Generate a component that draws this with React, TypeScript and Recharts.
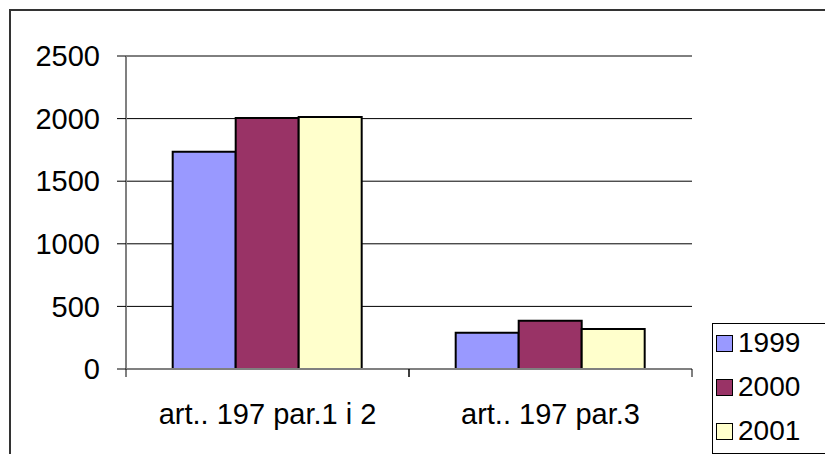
import { BarChart, Bar, XAxis, YAxis, CartesianGrid, Legend } from "recharts";

const categories = ["art.. 197 par.1 i 2", "art.. 197 par.3"];
const years = ["1999", "2000", "2001"];
const values1999 = [1735, 290];
const values2000 = [2005, 386];
const values2001 = [2012, 320];
const yTicks = [0, 500, 1000, 1500, 2000, 2500];

const COLORS = ["#9999ff", "#993366", "#ffffcc"];
const FONT = "'Liberation Sans', Arial, sans-serif";

const data = categories.map((name, i) => ({
    name,
    "1999": values1999[i],
    "2000": values2000[i],
    "2001": values2001[i],
}));

// category label centred, tick marks on the category boundaries (Excel style)
const CategoryTick = (props: any) => {
    const { x, y, payload, width, visibleTicksCount } = props;
    const half = width && visibleTicksCount ? width / visibleTicksCount / 2 : 141.5;
    return (
        <g>
            <line x1={x - half} x2={x - half} y1={y} y2={y + 8} stroke="#000" />
            <line x1={x + half} x2={x + half} y1={y} y2={y + 8} stroke="#000" />
            <text x={x} y={y + 55} textAnchor="middle" fill="#000" fontSize={29} fontFamily={FONT}>
                {payload.value}
            </text>
        </g>
    );
};

const LegendBox = () => (
    <div
        style={{
            border: "1px solid #000",
            background: "#fff",
            width: 130,
            height: 131,
            boxSizing: "border-box",
            fontFamily: FONT,
            fontSize: 28,
            overflow: "hidden",
        }}
    >
        <div style={{ marginTop: -3 }}>
            {years.map((y, i) => (
                <div key={y} style={{ display: "flex", alignItems: "center", height: 44, paddingLeft: 3 }}>
                    <div
                        style={{
                            width: 15,
                            height: 15,
                            background: COLORS[i],
                            border: "1.5px solid #000",
                            marginRight: 5,
                        }}
                    />
                    <span style={{ color: "#000", lineHeight: "28px" }}>{y}</span>
                </div>
            ))}
        </div>
    </div>
);

export default function App() {
    return (
        <div style={{ position: "absolute", left: 0, top: 0, width: 825, height: 454, overflow: "hidden", background: "#fff" }}>
            <div
                style={{
                    position: "absolute",
                    left: 9,
                    top: 9,
                    width: 840,
                    height: 480,
                    border: "2px solid #333",
                }}
            />
            <div style={{ position: "absolute", left: 0, top: 0 }}>
                <BarChart
                    width={825}
                    height={454}
                    data={data}
                    margin={{ top: 56, right: 133, bottom: 0, left: 0 }}
                    barCategoryGap="16.5%"
                    barGap={0}
                >
                    <CartesianGrid vertical={false} stroke="#000" strokeWidth={1} />
                    <XAxis
                        dataKey="name"
                        height={85}
                        tickSize={0}
                        tickMargin={0}
                        axisLine={{ stroke: "#808080", strokeWidth: 2 }}
                        tick={<CategoryTick />}
                        interval={0}
                    />
                    <XAxis xAxisId="top" orientation="top" dataKey="name" height={0} tick={false} tickLine={false} axisLine={{ stroke: "#808080", strokeWidth: 2 }} />
                    <YAxis
                        width={126}
                        domain={[0, 2500]}
                        ticks={yTicks}
                        interval={0}
                        tickSize={9}
                        tickMargin={17}
                        tickLine={{ stroke: "#000" }}
                        axisLine={{ stroke: "#808080", strokeWidth: 2 }}
                        tick={{ fill: "#000", fontSize: 29, fontFamily: FONT }}
                    />
                    <YAxis yAxisId="right" orientation="right" width={0} domain={[0, 2500]} tick={false} tickLine={false} axisLine={{ stroke: "#808080", strokeWidth: 2 }} />
                    {years.map((y, i) => (
                        <Bar key={y} dataKey={y} fill={COLORS[i]} stroke="#000" strokeWidth={2} isAnimationActive={false} />
                    ))}
                    <Legend
                        layout="vertical"
                        align="center"
                        verticalAlign="middle"
                        content={<LegendBox />}
                        wrapperStyle={{ position: "absolute", left: 712, top: 323, width: 130, height: 135 }}
                    />
                </BarChart>
            </div>
        </div>
    );
}
